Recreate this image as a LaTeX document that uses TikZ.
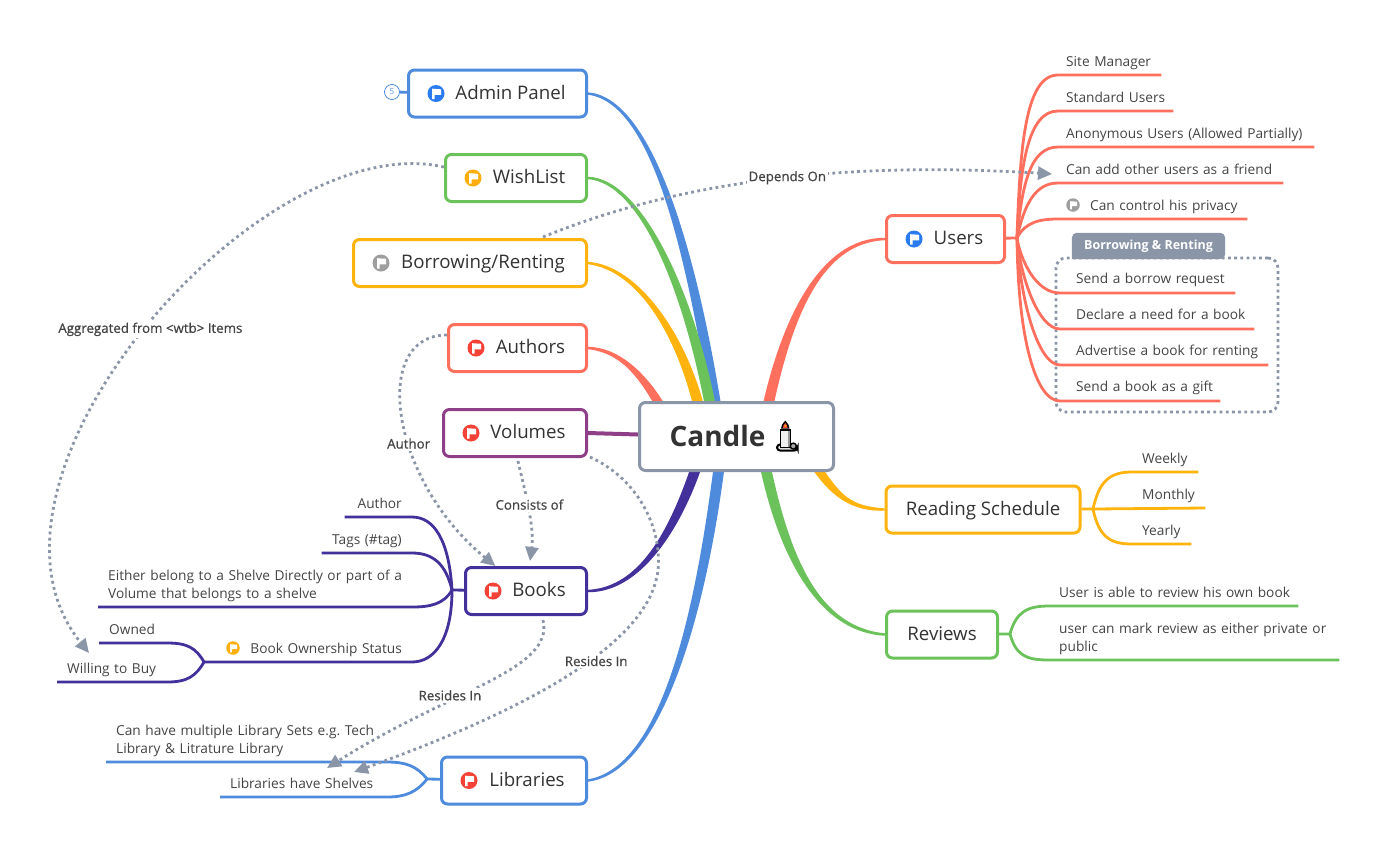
\documentclass[tikz,border=0pt]{standalone}
\usepackage{fontspec}
\setmainfont{Open Sans}
\newfontfamily\relfont[FakeBold=0.6]{Open Sans}
\usepackage{xcolor}
\usetikzlibrary{calc, arrows.meta}
\pgfdeclarelayer{background}
\pgfsetlayers{background,main}
\definecolor{cblue}{HTML}{4F8BDC}
\definecolor{cgreen}{HTML}{6CC25A}
\definecolor{cyellow}{HTML}{FFB30F}
\definecolor{csalmon}{HTML}{FF6F5E}
\definecolor{cplum}{HTML}{8F3F88}
\definecolor{cindigo}{HTML}{43309B}
\definecolor{cslate}{HTML}{8A95A8}
\definecolor{ctext}{HTML}{333333}
\definecolor{cleaf}{HTML}{444444}
\definecolor{fblue}{HTML}{2B7BF0}
\definecolor{fyellow}{HTML}{FFAE0D}
\definecolor{fgray}{HTML}{9E9E9E}
\definecolor{fred}{HTML}{F44336}
\tikzstyle{topic}    = [rectangle, rounded corners=6pt, line width=3pt, fill=white, minimum height=47pt, inner sep=0pt, text=ctext, text height=14.5pt, text depth=3.5pt, font=\fontsize{18.7}{22}\selectfont]
\tikzstyle{root}     = [topic, draw=cslate, minimum width=194pt, minimum height=68pt, text height=21pt, text depth=1pt, font=\fontsize{28}{32}\selectfont\bfseries]
\tikzstyle{leaf}     = [inner xsep=0pt, inner ysep=5pt, text=cleaf, text depth=3.8pt, font=\fontsize{13.7}{18}\selectfont, align=left]
\tikzstyle{leafr}    = [leaf, align=right]
\tikzstyle{leaftwo}  = [leaf, text depth=]
\tikzstyle{leafin}   = [leaf, inner ysep=6pt]
\tikzstyle{flagmark} = [circle, minimum size=17pt, inner sep=0pt, path picture={
    \fill[white, shift={(path picture bounding box.center)}] (-3.8,-4.8) -- (5,-4.2) -- (5,1.4) -- (-1.4,1.4) -- (-1.4,5.5) -- (-3.8,5.5) -- cycle;}]
\tikzstyle{flagsmall}= [circle, minimum size=13.5pt, inner sep=0pt, path picture={
    \fill[white, shift={(path picture bounding box.center)}] (-3,-3.8) -- (4,-3.3) -- (4,1.1) -- (-1.1,1.1) -- (-1.1,4.4) -- (-3,4.4) -- cycle;}]
\tikzstyle{stem}     = [line width=2.8pt]
\tikzstyle{relation} = [cslate, line width=2.8pt, dash pattern=on 2.8pt off 3.4pt, -{Stealth[length=14pt,width=13pt,inset=0pt]}]
\tikzstyle{rellabel} = [fill=white, inner sep=2pt, text=cleaf, font=\fontsize{13.3}{15}\selectfont\relfont]
\newcommand{\branch}[6]{% colour, from, control, control, to, half width
  \fill[#1] ($(#2)+(0,-1.2)$) .. controls ($(#3)+(0,{-abs(#6)*.5})$) and ($(#4)+(#6,0)$) .. ($(#5)+(#6,0)$)
    -- ($(#5)+(-#6,0)$) .. controls ($(#4)+(-#6,0)$) and ($(#3)+(0,{abs(#6)*.5})$) .. ($(#2)+(0,1.2)$) -- cycle;}
\begin{document}
\frenchspacing
\begin{tikzpicture}[x=1pt, y=-1pt]
    \useasboundingbox (0,0) rectangle (1389,855);

    % main topics
    \node (Candle)  [root]                                              at (736.5,436.5) {Candle\hspace*{38pt}};
    \node (Admin)   [topic, draw=cblue,   minimum width=178pt]          at (497.5,93.5)  {\hspace*{26pt}Admin Panel};
    \node (Wish)    [topic, draw=cgreen,  minimum width=141pt]          at (516,178)     {\hspace*{26pt}WishList};
    \node (Borrow)  [topic, draw=cyellow, minimum width=233pt]          at (470,263)     {\hspace*{26pt}Borrowing/Renting};
    \node (Authors) [topic, draw=csalmon, minimum width=138pt]          at (517.5,348)   {\hspace*{26pt}Authors};
    \node (Volumes) [topic, draw=cplum,   minimum width=143pt]          at (515,433)     {\hspace*{26pt}Volumes};
    \node (Books)   [topic, draw=cindigo, minimum width=121pt]          at (526,591)     {\hspace*{26pt}Books};
    \node (Libs)    [topic, draw=cblue,   minimum width=145pt]          at (514,780.5)   {\hspace*{26pt}Libraries};
    \node (Users)   [topic, draw=csalmon, minimum width=118pt]          at (945.5,239)   {\hspace*{26pt}Users};
    \node (Reading) [topic, draw=cyellow, minimum width=194pt]          at (983,509.5)   {Reading Schedule};
    \node (Reviews) [topic, draw=cgreen,  minimum width=111pt]          at (942,634.5)   {Reviews};

    \node (AdminFlag)   [flagmark, fill=fblue]   at ([xshift=29pt]Admin.west)   {};
    \node (WishFlag)    [flagmark, fill=fyellow] at ([xshift=29pt]Wish.west)    {};
    \node (BorrowFlag)  [flagmark, fill=fgray]   at ([xshift=29pt]Borrow.west)  {};
    \node (AuthorsFlag) [flagmark, fill=fred]    at ([xshift=29pt]Authors.west) {};
    \node (VolumesFlag) [flagmark, fill=fred]    at ([xshift=29pt]Volumes.west) {};
    \node (BooksFlag)   [flagmark, fill=fred]    at ([xshift=29pt]Books.west)   {};
    \node (LibsFlag)    [flagmark, fill=fred]    at ([xshift=29pt]Libs.west)    {};
    \node (UsersFlag)   [flagmark, fill=fblue]   at ([xshift=29pt]Users.west)   {};

    % candle icon
    \begin{scope}[shift={(Candle.center)}]
    \draw[black, line width=2pt, fill=black!12, rounded corners=3pt] (40.5,8) -- (56,8) -- (61,9) -- (61,14) -- (40.5,14) -- cycle;
    \draw[black, line width=1.8pt, fill=black!6] (44,-6.5) rectangle (54,11);
    \fill[black!40] (51,-5.5) rectangle (53.1,10.1);
    \draw[black, line width=1.4pt, fill=black!35] (56.8,9.6) circle (3);
    \fill[black] (48.8,-16) .. controls (51,-13) and (53.5,-11) .. (53,-8) -- (44.5,-8) .. controls (44,-11) and (46.5,-13) .. (48.8,-16);
    \fill[fred] (48.8,-13.5) .. controls (50,-12) and (51.5,-10.5) .. (51,-8.5) -- (46.5,-8.5) .. controls (46,-10.5) and (47.5,-12) .. (48.8,-13.5);
    \fill[fyellow] (48.8,-10.5) circle (1.3);
    \end{scope}

    % branches to the centre
    \begin{pgfonlayer}{background}
    \branch{cblue}{Admin.east}{650,100}{690,240}{718,420}{5.5}
    \branch{cgreen}{Wish.east}{640,180}{690,290}{713,420}{5.5}
    \branch{cyellow}{Borrow.east}{640,268}{685,340}{702,420}{5.5}
    \branch{csalmon}{Authors.east}{620,350}{645,375}{668,420}{5.5}
    \branch{cindigo}{Books.east}{640,590}{675,530}{697,465}{-5.5}
    \branch{cblue}{Libs.east}{660,770}{700,620}{720,460}{-5.5}
    \branch{csalmon}{Users.west}{820,240}{785,320}{765,420}{-5.5}
    \branch{cyellow}{Reading.west}{850,509}{835,495}{815,465}{5.5}
    \branch{cgreen}{Reviews.west}{820,630}{785,560}{765,465}{5.5}
    \draw [cplum, line width=4pt] (Volumes.east) -- ([yshift=2pt]Candle.west);
    \end{pgfonlayer}

    % admin panel
    \node (AdminMore) [circle, draw=cblue, fill=white, line width=.8pt, minimum size=15pt, inner sep=0pt, text=cblue, font=\fontsize{8}{8}\selectfont] at (392,92) {5};
    \draw [cblue, stem] (AdminMore) -- (Admin);

    % users
    \coordinate (UsersHub) at (1017,238);
    \node (Site)    [leaf, anchor=south west, text width=95pt]  at (1066,75)  {Site Manager};
    \node (Std)     [leaf, anchor=south west, text width=107pt] at (1066,111) {Standard Users};
    \node (Anon)    [leaf, anchor=south west, text width=248pt] at (1066,147) {Anonymous Users (Allowed Partially)};
    \node (Friend)  [leaf, anchor=south west, text width=217pt] at (1066,183) {Can add other users as a friend};
    \node (Privacy) [leaf, anchor=south west, text width=157pt] at (1090,219) {Can control his privacy};
    \node (PrivacyFlag) [flagsmall, fill=fgray] at (1073,205) {};

    \node (Group) [rectangle, draw=cslate, rounded corners=10pt, line width=2.8pt, dash pattern=on 2.8pt off 3.4pt, minimum width=222pt, minimum height=154pt] at (1167,335) {};
    \node (GroupTab) [minimum width=153pt, minimum height=26pt, inner sep=0pt, text=white, font=\fontsize{12.5}{14}\selectfont\bfseries] at (1148.5,246) {Borrowing \& Renting};
    \begin{pgfonlayer}{background}
    \fill [cslate, rounded corners=5pt] (GroupTab.south west) -- (GroupTab.north west) -- (GroupTab.north east) -- (GroupTab.south east) [sharp corners] -- cycle;
    \end{pgfonlayer}
    \node (Req)   [leafin, anchor=south west, text width=159pt] at (1076,293) {Send a borrow request};
    \node (Need)  [leafin, anchor=south west, text width=178pt] at (1076,329) {Declare a need for a book};
    \node (Adv)   [leafin, anchor=south west, text width=192pt] at (1076,365) {Advertise a book for renting};
    \node (Gift)  [leafin, anchor=south west, text width=144pt] at (1076,401) {Send a book as a gift};

    \draw [csalmon, stem] (Users) -- (UsersHub);
    \draw [csalmon, stem] (UsersHub) .. controls +(3,-90) and +(-33,0) .. ([xshift=-8pt]Site.south west) -- (Site.south east);
    \draw [csalmon, stem] (UsersHub) .. controls +(3,-73) and +(-30,0) .. ([xshift=-8pt]Std.south west) -- (Std.south east);
    \draw [csalmon, stem] (UsersHub) .. controls +(5,-53) and +(-28,0) .. ([xshift=-8pt]Anon.south west) -- (Anon.south east);
    \draw [csalmon, stem] (UsersHub) .. controls +(7,-33) and +(-23,0) .. ([xshift=-8pt]Friend.south west) -- (Friend.south east);
    \draw [csalmon, stem] (UsersHub) .. controls +(8,-16) and +(-18,0) .. ([xshift=-32pt]Privacy.south west) -- (Privacy.south east);
    \draw [csalmon, stem] (UsersHub) .. controls +(3,20) and +(-25,0) .. ([xshift=-16pt]Req.south west) -- (Req.south east);
    \draw [csalmon, stem] (UsersHub) .. controls +(3,37) and +(-22,0) .. ([xshift=-16pt]Need.south west) -- (Need.south east);
    \draw [csalmon, stem] (UsersHub) .. controls +(3,62) and +(-22,0) .. ([xshift=-16pt]Adv.south west) -- (Adv.south east);
    \draw [csalmon, stem] (UsersHub) .. controls +(1,102) and +(-24,0) .. ([xshift=-16pt]Gift.south west) -- (Gift.south east);

    % reading schedule
    \coordinate (ReadingHub) at (1093,509);
    \node (Weekly)  [leaf, anchor=south west, text width=56pt] at (1142,472) {Weekly};
    \node (Monthly) [leaf, anchor=south west, text width=63pt] at (1142,508) {Monthly};
    \node (Yearly)  [leaf, anchor=south west, text width=49pt] at (1142,544) {Yearly};
    \draw [cyellow, stem] (Reading) -- (ReadingHub);
    \draw [cyellow, stem] (ReadingHub) .. controls +(6,-28) and +(-22,0) .. ([xshift=-10pt]Weekly.south west) -- (Weekly.south east);
    \draw [cyellow, stem] (ReadingHub) -- (Monthly.south east);
    \draw [cyellow, stem] (ReadingHub) .. controls +(6,28) and +(-22,0) .. ([xshift=-10pt]Yearly.south west) -- (Yearly.south east);

    % reviews
    \coordinate (ReviewsHub) at (1010,634);
    \node (OwnBook) [leaf, anchor=south west, text width=239pt] at (1059,606) {User is able to review his own book};
    \node (Mark)    [leaftwo, anchor=south west, text width=280pt] at (1059,660) {user can mark review as either private or\\public};
    \draw [cgreen, stem] (Reviews) -- (ReviewsHub);
    \draw [cgreen, stem] (ReviewsHub) .. controls +(6,-22) and +(-22,0) .. ([xshift=-10pt]OwnBook.south west) -- (OwnBook.south east);
    \draw [cgreen, stem] (ReviewsHub) .. controls +(6,22) and +(-22,0) .. ([xshift=-10pt]Mark.south west) -- (Mark.south east);

    % books
    \coordinate (BooksHub) at (452,590);
    \coordinate (OwnHub)   at (204,662);
    \node (BkAuthor) [leafr, anchor=south east, text width=57pt]  at (402,517) {Author};
    \node (BkTags)   [leafr, anchor=south east, text width=80pt]  at (402,553) {Tags (\#tag)};
    \node (BkShelve) [leaftwo, anchor=south west, text width=300pt] at (108,607) {Either belong to a Shelve Directly or part of a\\Volume that belongs to a shelve};
    \node (BkOwn)    [leafr, anchor=south east, text width=153pt] at (402,662) {Book Ownership Status};
    \node (BkOwnFlag) [flagsmall, fill=fyellow] at (233,648) {};
    \node (Owned)    [leaf,  anchor=south west, text width=58pt]  at (109,643) {Owned};
    \node (Willing)  [leaf,  anchor=south west, text width=100pt] at (67,682)  {Willing to Buy};
    \draw [cindigo, stem] (Books) -- (BooksHub);
    \draw [cindigo, stem] (BooksHub) .. controls +(-3,-50) and +(22,0) .. ([xshift=10pt]BkAuthor.south east) -- (BkAuthor.south west);
    \draw [cindigo, stem] (BooksHub) .. controls +(-6,-25) and +(22,0) .. ([xshift=10pt]BkTags.south east) -- (BkTags.south west);
    \draw [cindigo, stem] (BooksHub) .. controls +(-8,14) and +(18,0) .. ([xshift=4pt]BkShelve.south east) -- ([xshift=-10pt]BkShelve.south west);
    \draw [cindigo, stem] (BooksHub) .. controls +(0,50) and +(22,0) .. ([xshift=10pt]BkOwn.south east) -- (OwnHub);
    \draw [cindigo, stem] (OwnHub) .. controls +(-8,-14) and +(20,0) .. (Owned.south east) -- ([xshift=-10pt]Owned.south west);
    \draw [cindigo, stem] (OwnHub) .. controls +(-8,14) and +(20,0) .. (Willing.south east) -- ([xshift=-10pt]Willing.south west);

    % libraries
    \coordinate (LibsHub) at (427,779);
    \node (LibSets)    [leaftwo, anchor=south west, text width=271pt] at (116,762) {Can have multiple Library Sets e.g. Tech\\Library \& Litrature Library};
    \node (LibShelves) [leaf, anchor=south west, text width=157pt] at (230,797) {Libraries have Shelves};
    \draw [cblue, stem] (Libs) -- (LibsHub);
    \draw [cblue, stem] (LibsHub) .. controls +(-10,-13) and +(18,0) .. (LibSets.south east) -- ([xshift=-10pt]LibSets.south west);
    \draw [cblue, stem] (LibsHub) .. controls +(-10,13) and +(18,0) .. (LibShelves.south east) -- ([xshift=-10pt]LibShelves.south west);

    % relations
    \coordinate (BorrowTop)  at (543,237);
    \coordinate (VolDotA)    at (518,461);
    \coordinate (VolDotB)    at (590,457);
    \coordinate (BooksDot)   at (543,620);
    \coordinate (BooksTop)   at (530,561);
    \coordinate (SetsTip)    at (327,768);
    \coordinate (ShelvesTip) at (354,772);
    \coordinate (BuyTip)     at (89,653);
    \coordinate (FriendTip)  at (1052,174);
    \draw [relation] ([yshift=11pt]Wish.west) .. controls (260,125) and (-50,480) .. node[rellabel, pos=.5, xshift=5pt] {Aggregated from <wtb> Items} (BuyTip);
    \draw [relation] (BorrowTop) .. controls (670,185) and (830,160) .. node[rellabel, pos=.55] {Depends On} (FriendTip);
    \draw [relation] ([yshift=13pt]Authors.west) .. controls (370,335) and (390,480) .. node[rellabel, pos=.58, yshift=-2pt] {Author} (Books);
    \draw [relation] (VolDotA) .. controls (522,480) and (535,525) .. node[rellabel, pos=.5, xshift=2pt] {Consists of} (BooksTop);
    \draw [relation] (VolDotB) .. controls (640,480) and (662,530) .. (658,570) .. controls (650,640) and (540,705) .. node[rellabel, pos=.43, xshift=3pt, yshift=-3pt] {Resides In} (ShelvesTip);
    \draw [relation] (BooksDot) .. controls (555,670) and (450,690) .. node[rellabel, pos=.62, xshift=-4pt, yshift=4pt] {Resides In} (SetsTip);
\end{tikzpicture}
\end{document}
